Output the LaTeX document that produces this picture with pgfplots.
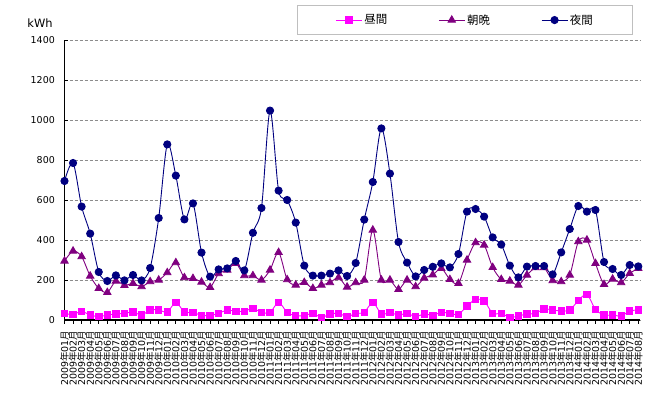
\documentclass[border=0pt]{standalone}
\usepackage{pgfplots}
\pgfplotsset{compat=1.18}
\usepackage{fontspec}
\setmainfont{DejaVu Sans}
\newfontfamily\cjk{Noto Sans CJK JP}
\definecolor{cMag}{HTML}{FF00FF}
\definecolor{cPur}{HTML}{800080}
\definecolor{cNav}{HTML}{000080}
\newcommand{\ym}[2]{#1{\cjk 年}#2{\cjk 月}}
\begin{document}
\begin{tikzpicture}
\begin{axis}[
  at={(0,0)}, anchor=south west,
  scale only axis, width=575.5bp, height=280bp,
  xmin=0, xmax=67.2, ymin=0, ymax=1400,
  axis x line*=bottom, axis y line*=left,
  axis line style={black, line width=1.1bp},
  ytick={0,200,...,1400},
  xtick={0,...,67},
  xticklabels={\ym{2009}{01},\ym{2009}{02},\ym{2009}{03},\ym{2009}{04},\ym{2009}{05},\ym{2009}{06},\ym{2009}{07},\ym{2009}{08},\ym{2009}{09},\ym{2009}{10},\ym{2009}{11},\ym{2009}{12},
  \ym{2010}{01},\ym{2010}{02},\ym{2010}{03},\ym{2010}{04},\ym{2010}{05},\ym{2010}{06},\ym{2010}{07},\ym{2010}{08},\ym{2010}{09},\ym{2010}{10},\ym{2010}{11},\ym{2010}{12},
  \ym{2011}{01},\ym{2011}{02},\ym{2011}{03},\ym{2011}{04},\ym{2011}{05},\ym{2011}{06},\ym{2011}{07},\ym{2011}{08},\ym{2011}{09},\ym{2011}{10},\ym{2011}{11},\ym{2011}{12},
  \ym{2012}{01},\ym{2012}{02},\ym{2012}{03},\ym{2012}{04},\ym{2012}{05},\ym{2012}{06},\ym{2012}{07},\ym{2012}{08},\ym{2012}{09},\ym{2012}{10},\ym{2012}{11},\ym{2012}{12},
  \ym{2013}{01},\ym{2013}{02},\ym{2013}{03},\ym{2013}{04},\ym{2013}{05},\ym{2013}{06},\ym{2013}{07},\ym{2013}{08},\ym{2013}{09},\ym{2013}{10},\ym{2013}{11},\ym{2013}{12},
  \ym{2014}{01},\ym{2014}{02},\ym{2014}{03},\ym{2014}{04},\ym{2014}{05},\ym{2014}{06},\ym{2014}{07},\ym{2014}{08}},
  xticklabel style={font=\fontsize{9.5}{9.5}\selectfont, inner sep=0pt, yshift=-10.5bp, rotate=90, anchor=east},
  yticklabel style={font=\fontsize{9.5}{9.5}\selectfont, inner sep=0pt, xshift=-9.5bp, anchor=east},
  /pgf/number format/assume math mode=true,
  /pgf/number format/1000 sep={},
  tick align=inside,
  major tick length=3.5bp,
  xtick style={black, line width=0.8bp, yshift=-3.5bp},
  ytick style={black, line width=0.8bp},
  ymajorgrids,
  major grid style={dash pattern=on 3bp off 2bp, black!45, line width=0.8bp},
  legend columns=3,
  legend image code/.code={\draw[mark repeat=2,mark phase=2,#1] plot coordinates {(0bp,0bp) (13bp,0bp) (26bp,0bp)};},
  legend style={at={(0.404,1.125)}, anchor=north west, draw=black!25, line width=1bp,
    font=\cjk\fontsize{11.5}{12}\selectfont, inner xsep=38bp, inner ysep=7bp,
    /tikz/every even column/.append style={column sep=49bp}},
]
\addplot[color=cMag, line width=0.9bp, smooth, tension=0.5, mark=square*, mark size=3.2bp, mark options={solid, fill=cMag}] coordinates {
(0,33)(1,28)(2,43)(3,25)(4,17)(5,25)(6,30)(7,33)(8,40)(9,25)(10,50)(11,50)
(12,40)(13,88)(14,40)(15,38)(16,23)(17,23)(18,33)(19,50)(20,43)(21,44)(22,58)(23,38)
(24,38)(25,88)(26,38)(27,22)(28,22)(29,33)(30,13)(31,30)(32,33)(33,17)(34,33)(35,38)
(36,88)(37,30)(38,37)(39,25)(40,33)(41,17)(42,30)(43,24)(44,38)(45,33)(46,28)(47,70)
(48,103)(49,95)(50,33)(51,33)(52,13)(53,20)(54,30)(55,33)(56,55)(57,50)(58,45)(59,50)
(60,97)(61,128)(62,53)(63,25)(64,25)(65,20)(66,45)(67,50)};
\addlegendentry{昼間}
\addplot[color=cPur, line width=0.9bp, smooth, tension=0.5, mark=triangle*, mark size=4.2bp, mark options={solid, fill=cPur}] coordinates {
(0,295)(1,345)(2,317)(3,220)(4,158)(5,138)(6,195)(7,173)(8,183)(9,167)(10,192)(11,200)
(12,237)(13,287)(14,212)(15,208)(16,190)(17,163)(18,232)(19,250)(20,283)(21,222)(22,222)(23,200)
(24,250)(25,338)(26,202)(27,175)(28,188)(29,158)(30,175)(31,187)(32,212)(33,165)(34,187)(35,200)
(36,450)(37,200)(38,200)(39,153)(40,200)(41,167)(42,210)(43,226)(44,258)(45,203)(46,183)(47,300)
(48,387)(49,375)(50,263)(51,203)(52,195)(53,175)(54,225)(55,262)(56,262)(57,197)(58,192)(59,225)
(60,392)(61,400)(62,283)(63,178)(64,205)(65,187)(66,233)(67,258)};
\addlegendentry{朝晩}
\addplot[color=cNav, line width=0.9bp, smooth, tension=0.5, mark=*, mark size=3.6bp, mark options={solid, fill=cNav}] coordinates {
(0,695)(1,785)(2,567)(3,432)(4,240)(5,195)(6,223)(7,198)(8,225)(9,198)(10,260)(11,510)
(12,878)(13,722)(14,503)(15,583)(16,337)(17,217)(18,253)(19,258)(20,295)(21,248)(22,436)(23,560)
(24,1047)(25,647)(26,600)(27,487)(28,272)(29,222)(30,222)(31,232)(32,248)(33,220)(34,285)(35,502)
(36,690)(37,958)(38,732)(39,390)(40,287)(41,218)(42,250)(43,266)(44,283)(45,263)(46,330)(47,542)
(48,555)(49,517)(50,413)(51,377)(52,272)(53,213)(54,267)(55,270)(56,270)(57,228)(58,338)(59,455)
(60,570)(61,542)(62,550)(63,290)(64,255)(65,225)(66,275)(67,268)};
\addlegendentry{夜間}
\end{axis}
\node[font=\fontsize{11.5}{12}\selectfont, inner sep=0pt] at (-24.5bp,297bp) {kWh};
\pgfresetboundingbox
\useasboundingbox (-64.5bp,-82bp) rectangle (585.5bp,320bp);
\end{tikzpicture}
\end{document}
